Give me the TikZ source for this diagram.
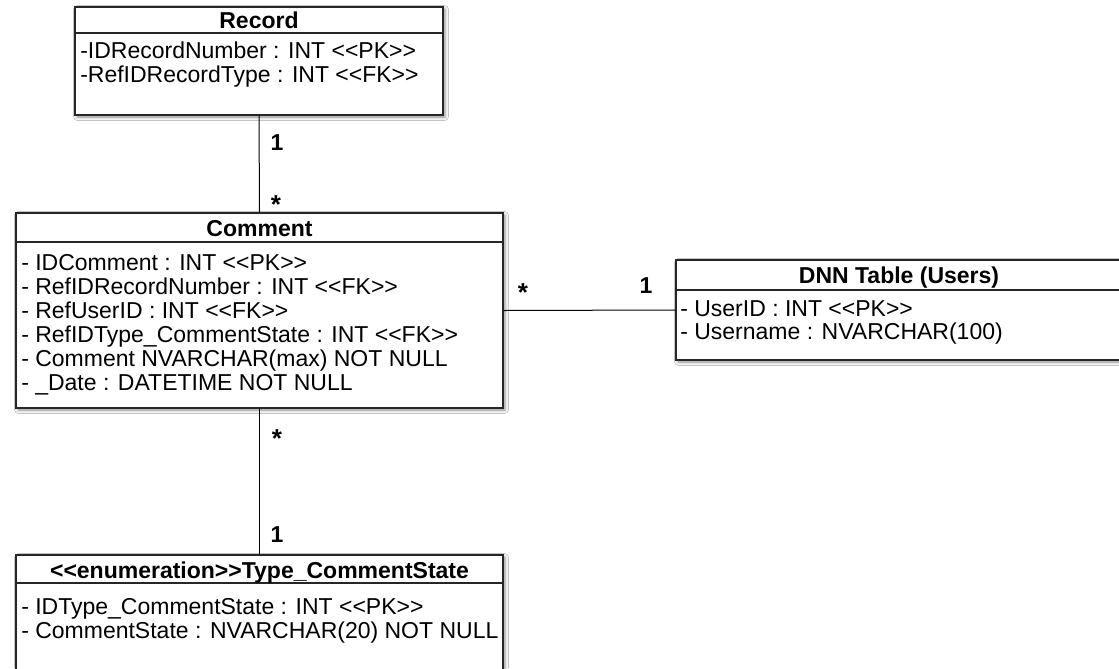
\documentclass[tikz,border=0pt]{standalone}
\usepackage{fontspec}
\setmainfont{Liberation Sans}
\usetikzlibrary{shadows.blur}
\begin{document}
\begin{tikzpicture}[x=0.75pt,y=-0.75pt,
  classbox/.style={draw=black!85, line width=0.9pt, fill=white, inner sep=0pt,
    blur shadow={shadow xshift=1.5pt, shadow yshift=-1.5pt, shadow blur radius=2.5pt, shadow opacity=45}},
  rule/.style={draw=black!85, line width=0.8pt},
  attr/.style={anchor=base west, inner sep=0pt, font=\fontsize{17.25}{20}\selectfont},
  head/.style={anchor=base, inner sep=0pt, font=\fontsize{17.25}{20}\selectfont\bfseries},
  mult/.style={anchor=base, inner sep=0pt, font=\fontsize{17.25}{20}\selectfont\bfseries},
  star/.style={anchor=base, inner sep=0pt, font=\fontsize{19.5}{22}\selectfont\bfseries},
  link/.style={draw=black, line width=0.75pt}]
\fill[white] (0,0) rectangle (1119,668);
\clip (0,0) rectangle (1119,668);

% class boxes
\node[classbox, minimum width=0.75pt*368, minimum height=0.75pt*108] (record) at (259,61) {};
\node[classbox, minimum width=0.75pt*487, minimum height=0.75pt*195] (comment) at (259.5,310.5) {};
\node[classbox, minimum width=0.75pt*446, minimum height=0.75pt*100] (dnn) at (899,310) {};
\node[classbox, minimum width=0.75pt*487, minimum height=0.75pt*165] (state) at (259.5,637.5) {};

% compartment rules
\draw[rule] (record.west |- 0,33) -- (record.east |- 0,33);
\draw[rule] (comment.west |- 0,242) -- (comment.east |- 0,242);
\draw[rule] (dnn.west |- 0,290) -- (dnn.east |- 0,290);
\draw[rule] (state.west |- 0,583) -- (state.east |- 0,583);

% Record
\node[head] (recordname) at (259,28) {Record};
\node[attr] (r1) at (80,58) {-IDRecordNumber : INT <{}<PK>{}>};
\node[attr] (r2) at (80,82) {-RefIDRecordType : INT <{}<FK>{}>};

% Comment
\node[head] (commentname) at (259.5,236) {Comment};
\node[attr] (c1) at (21,270) {- IDComment : INT <{}<PK>{}>};
\node[attr] (c2) at (21,294) {- RefIDRecordNumber : INT <{}<FK>{}>};
\node[attr] (c3) at (21,318) {- RefUserID : INT <{}<FK>{}>};
\node[attr] (c4) at (21,342) {- RefIDType\_CommentState : INT <{}<FK>{}>};
\node[attr] (c5) at (21,366) {- Comment NVARCHAR(max) NOT NULL};
\node[attr] (c6) at (21,390) {- \_Date : DATETIME NOT NULL};

% DNN users table
\node[head] (dnnname) at (899,283) {DNN Table (Users)};
\node[attr] (d1) at (680,316) {- UserID : INT <{}<PK>{}>};
\node[attr] (d2) at (680,339) {- Username : NVARCHAR(100)};

% comment state enumeration
\node[head] (statename) at (259.5,578) {<{}<enumeration>{}>Type\_CommentState};
\node[attr] (s1) at (21,614) {- IDType\_CommentState : INT <{}<PK>{}>};
\node[attr] (s2) at (21,638) {- CommentState : NVARCHAR(20) NOT NULL};

% associations
\draw[link] (record.south) -- (comment.north);
\draw[link] (comment.east) -- (dnn.west);
\draw[link] (comment.south) -- (state.north);

% multiplicities
\node[mult] (m1) at (277,150) {1};
\node[star] (m2) at (276,213) {*};
\node[star] (m3) at (523,301) {*};
\node[mult] (m4) at (646,293) {1};
\node[star] (m5) at (277,447) {*};
\node[mult] (m6) at (277,542) {1};
\end{tikzpicture}
\end{document}
